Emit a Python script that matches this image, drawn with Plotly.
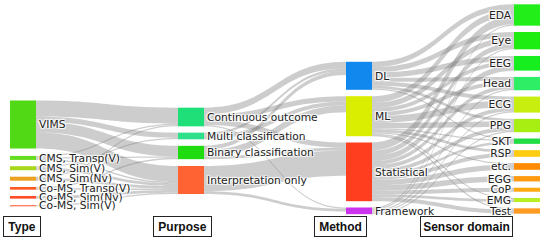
import plotly.graph_objects as go

# ---- data ----
types = ["VIMS", "CMS, Transp(V)", "CMS, Sim(V)", "CMS, Sim(Nv)",
         "Co-MS, Transp(V)", "Co-MS, Sim(Nv)", "Co-MS, Sim(V)"]
purposes = ["Continuous outcome", "Multi classification",
            "Binary classification", "Interpretation only"]
methods = ["DL", "ML", "Statistical", "Framework"]
sensors = ["EDA", "Eye", "EEG", "Head", "ECG", "PPG", "SKT", "RSP",
           "etc.", "EGG", "CoP", "EMG", "Test"]

# type -> purpose counts (rows: types, cols: purposes)
type_purpose = [
    [12, 4, 8, 12],
    [1, 0, 1, 1],
    [0, 1, 0, 2],
    [1, 0, 0, 2],
    [0, 0, 1, 1],
    [0, 0, 0, 2],
    [0, 0, 0, 1],
]
# purpose -> method counts (rows: purposes, cols: methods)
purpose_method = [
    [5, 4, 4, 1],
    [2, 3, 0, 0],
    [3, 5, 2, 0],
    [0, 0, 19, 2],
]
# method -> sensor counts (rows: methods, cols: sensors)
method_sensor = [
    [4, 4, 4, 3, 3, 2, 1, 0, 0, 0, 0, 0, 0],
    [5, 4, 3, 3, 5, 4, 1, 2, 1, 0, 0, 1, 1],
    [6, 4, 4, 3, 3, 3, 2, 3, 4, 4, 3, 2, 3],
    [1, 1, 0, 1, 1, 1, 0, 0, 0, 0, 0, 0, 0],
]

type_colors = ["#52d915", "#66dd1e", "#a8d81c", "#eda21f",
               "#ff5a22", "#ff4d2a", "#ff7a5a"]
purpose_colors = ["#1fe078", "#2ee08a", "#1edc10", "#ff6333"]
method_colors = ["#1188ee", "#d9ee00", "#ff3d1f", "#cc33ee"]
sensor_colors = ["#22ee1a", "#1ded10", "#16ee20", "#2eee66", "#c8ee10",
                 "#a8ee12", "#22dd44", "#ffcc11", "#ff8c00", "#ff9a11",
                 "#ffaa11", "#b8ee22", "#ff9a22"]

column_titles = ["Type", "Purpose", "Method", "Sensor domain"]

# ---- layout geometry ----
W, H = 550, 241
dom_x = [10 / W, 540 / W]
dom_y = [1 - 213 / H, 1 - 4 / H]
col_x = [0.0245, 0.3415, 0.6585, 0.9755]
type_y = [0.5766, 0.7364, 0.7847, 0.8359, 0.8818, 0.9249, 0.9651]
purpose_y = [0.5407, 0.6301, 0.7105, 0.8421]
method_y = [0.3435, 0.5368, 0.7974, 0.9818]
sensor_y = [0.0526, 0.1754, 0.2837, 0.378, 0.477, 0.5727, 0.645,
            0.7048, 0.7689, 0.8292, 0.8804, 0.9378, 0.9833]

labels = types + purposes + methods + sensors
colors = type_colors + purpose_colors + method_colors + sensor_colors
xs = ([col_x[0]] * len(types) + [col_x[1]] * len(purposes)
      + [col_x[2]] * len(methods) + [col_x[3]] * len(sensors))
ys = type_y + purpose_y + method_y + sensor_y

off_p = len(types)
off_m = off_p + len(purposes)
off_s = off_m + len(methods)

src, tgt, val = [], [], []
for i, row in enumerate(type_purpose):
    for j, v in enumerate(row):
        if v:
            src.append(i); tgt.append(off_p + j); val.append(v)
for i, row in enumerate(purpose_method):
    for j, v in enumerate(row):
        if v:
            src.append(off_p + i); tgt.append(off_m + j); val.append(v)
for i, row in enumerate(method_sensor):
    for j, v in enumerate(row):
        if v:
            src.append(off_m + i); tgt.append(off_s + j); val.append(v)

fig = go.Figure(go.Sankey(
    domain=dict(x=dom_x, y=dom_y),
    arrangement="snap",
    node=dict(label=labels, color=colors, x=xs, y=ys,
              pad=6.3, thickness=26, line=dict(width=0)),
    link=dict(source=src, target=tgt, value=val,
              color="rgba(130,130,130,0.4)"),
    textfont=dict(family="DejaVu Sans", size=10.7, color="#222222"),
    hoverinfo="none",
))

title_cx = [22.3, 182.3, 340.3, 466.0]
title_w = [34, 55, 49, 89]
for t, cx, w in zip(column_titles, title_cx, title_w):
    fig.add_annotation(
        x=cx / W, y=1 - 226.2 / H, xref="paper", yref="paper",
        text="<b>" + t + "</b>", showarrow=False,
        font=dict(family="Liberation Sans", size=12, color="#111111"),
        bordercolor="#222222", borderwidth=1, borderpad=1,
        width=w, height=17, bgcolor="white",
        xanchor="center", yanchor="middle",
    )

fig.update_layout(width=W, height=H, margin=dict(l=0, r=0, t=0, b=0),
                  paper_bgcolor="white", plot_bgcolor="white")
fig.write_html("out.html", config={"displayModeBar": False},
               post_script="document.body.style.margin='0';")
